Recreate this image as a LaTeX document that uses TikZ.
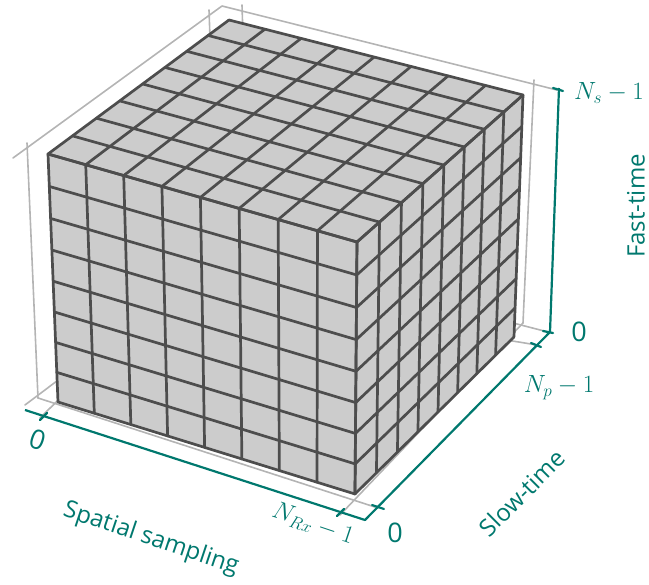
\documentclass[tikz,border=0pt]{standalone}
\usepackage{fontspec}
\setmainfont{Open Sans}
\usetikzlibrary{calc}
\definecolor{tealax}{RGB}{0,120,110}
\definecolor{cubefill}{RGB}{204,204,204}
\definecolor{gridc}{RGB}{77,77,77}
\definecolor{framec}{RGB}{180,180,180}
\newcommand\rtp[4]{\pgfmathsetmacro#1{(#2)*(#4)/((1-(#2))*(#3)+(#2)*(#4))}}
\begin{document}
\begin{tikzpicture}[x=1pt,y=-1pt,line join=round,line cap=round,
  gridline/.style={draw=gridc,line width=2.7pt},
  framel/.style={draw=framec,line width=1.6pt},
  axisl/.style={draw=tealax,line width=2.2pt},
  ticklbl/.style={text=tealax,font=\fontsize{27}{30}\selectfont,inner sep=0pt},
  axlbl/.style={text=tealax,font=\fontsize{24}{28}\selectfont,inner sep=0pt}]
\useasboundingbox (0,0) rectangle (649,585);
% ---------------- grey frame (grid lines on back panes)
\draw[framel] (13,158) -- (222,6) -- (557,90);
\draw[framel] (27,143) -- (38,398);
\draw[framel] (209,10) -- (218,260);
\draw[framel] (242,5) -- (250,260);
\draw[framel] (534,80) -- (523,323);
\draw[framel] (230,250) -- (548,332);
\draw[framel] (25,405) -- (215,262);
\draw[framel] (40,418) -- (200,260);
\draw[framel] (340,515) -- (523,323);
\draw[framel] (38,398) -- (378,508);
\draw[framel] (200,290) -- (537,345);
% ---------------- cube corners
\coordinate (c000) at (58,402);
\coordinate (c800) at (355,494);
\coordinate (c008) at (48,154);
\coordinate (c808) at (357,242);
\coordinate (c088) at (229,20);
\coordinate (c888) at (523,95);
\coordinate (c880) at (514,337);
\fill[cubefill] (c000) -- (c800) -- (c880) -- (c888) -- (c088) -- (c008) -- cycle;
\foreach \n in {0,...,8}{
  \pgfmathsetmacro\sv{\n/8}
  % front face
  \rtp\ta{\sv}{1}{0.975}\rtp\tb{\sv}{0.95}{0.925}
  \draw[gridline] ($(c000)!\ta!(c800)$) -- ($(c008)!\tb!(c808)$);
  \rtp\ta{\sv}{1}{0.95}\rtp\tb{\sv}{0.975}{0.925}
  \draw[gridline] ($(c000)!\ta!(c008)$) -- ($(c800)!\tb!(c808)$);
  % top face
  \rtp\ta{\sv}{0.95}{0.925}\rtp\tb{\sv}{1.04}{1.015}
  \draw[gridline] ($(c008)!\ta!(c808)$) -- ($(c088)!\tb!(c888)$);
  \rtp\ta{\sv}{0.95}{1.04}\rtp\tb{\sv}{0.925}{1.015}
  \draw[gridline] ($(c008)!\ta!(c088)$) -- ($(c808)!\tb!(c888)$);
  % right face
  \rtp\ta{\sv}{0.975}{1.065}\rtp\tb{\sv}{0.925}{1.015}
  \draw[gridline] ($(c800)!\ta!(c880)$) -- ($(c808)!\tb!(c888)$);
  \rtp\ta{\sv}{0.975}{0.925}\rtp\tb{\sv}{1.065}{1.015}
  \draw[gridline] ($(c800)!\ta!(c808)$) -- ($(c880)!\tb!(c888)$);
}
% ---------------- teal axes
\coordinate (a0) at (25,410);
\coordinate (a1) at (365,520);
\coordinate (a2) at (550,332);
\coordinate (a3) at (559,88);
\draw[axisl,line cap=butt] (a0) -- (a1) -- (a2) -- (a3);
\draw[axisl] (40,420) -- (47,413);
\draw[axisl] (337,516) -- (344,509);
\draw[axisl] (372,505) -- (384,509);
\draw[axisl] (531,343) -- (541,347);
\draw[axisl] (543,331) -- (553,333);
\draw[axisl] (553,88) -- (563,91);
% ---------------- labels
\node[ticklbl,rotate=-18.5] (l0x) at (38,440) {0};
\node[ticklbl,rotate=-18.5] (lnx) at (313,524) {$N_{Rx}-1$};
\node[axlbl,rotate=-18.5] (tx) at (151,539) {Spatial sampling};
\node[ticklbl] (l0y) at (395,533) {0};
\node[ticklbl] (lny) at (559,388) {$N_p-1$};
\node[axlbl,rotate=45] (ty) at (522,493) {Slow-time};
\node[ticklbl] (l0z) at (579,332) {0};
\node[ticklbl] (lnz) at (609,93) {$N_s-1$};
\node[axlbl,rotate=90] (tz) at (636,206) {Fast-time};
\end{tikzpicture}
\end{document}
